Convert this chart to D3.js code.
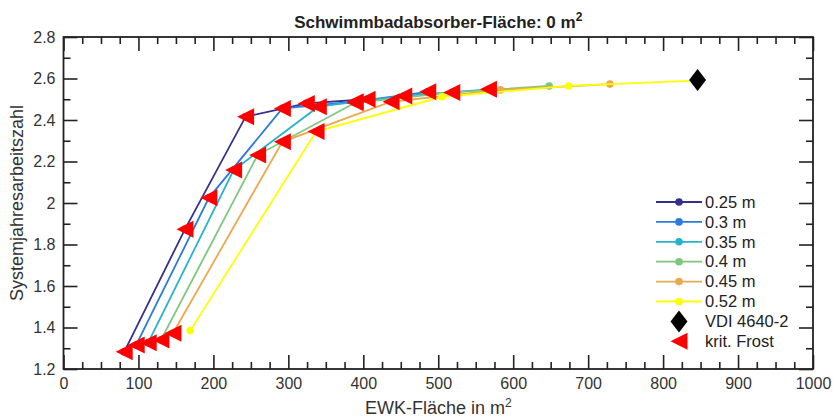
<!DOCTYPE html>
<html>
<head>
<meta charset="utf-8">
<script src="https://cdn.jsdelivr.net/npm/d3@7"></script>
<style>
  body { margin: 0; background: #fff; }
  svg { display: block; font-family: "Liberation Sans", Arial, sans-serif; }
</style>
</head>
<body>
<svg id="chart" width="836" height="420"></svg>
<script>
// Verlegeabstand der Kollektorrohre
const spacings = ['0.25 m', '0.3 m', '0.35 m', '0.4 m', '0.45 m', '0.52 m'];
const colors = ['#33308f', '#2b7bdb', '#27b3cc', '#7dc77d', '#e9a94f', '#ffff00'];

// EWK-Fläche in m2 per series
const ewk = [
    [81, 162, 243, 324, 405],
    [97, 194, 292, 389, 486],
    [113, 227, 340, 454, 567],
    [130, 259, 389, 518, 648],
    [146, 292, 437, 583, 729],
    [169, 337, 505, 674, 842]
];
// Systemjahresarbeitszahl per series
const jaz = [
    [1.283, 1.873, 2.416, 2.480, 2.500],
    [1.316, 2.025, 2.456, 2.488, 2.536],
    [1.327, 2.159, 2.464, 2.516, 2.548],
    [1.340, 2.231, 2.483, 2.533, 2.564],
    [1.372, 2.295, 2.488, 2.545, 2.573],
    [1.385, 2.344, 2.512, 2.564, 2.590]
];
// 1 = kritischer Frost
const frost = [
    [1, 1, 1, 1, 1],
    [1, 1, 1, 1, 1],
    [1, 1, 1, 1, 1],
    [1, 1, 1, 1, 0],
    [1, 1, 1, 0, 0],
    [0, 1, 0, 0, 0]
];
const vdi = { x: 846, y: 2.593 };

const xTicks = [0, 100, 200, 300, 400, 500, 600, 700, 800, 900, 1000];
const yTicks = [1.2, 1.4, 1.6, 1.8, 2, 2.2, 2.4, 2.6, 2.8];

const pLeft = 63.5, pRight = 813, pTop = 37, pBottom = 369;

const svg = d3.select('#chart');

const x = d3.scaleLinear().domain([0, 1000]).range([pLeft, pRight]);
const y = d3.scaleLinear().domain([1.2, 2.8]).range([pBottom, pTop]);

const xMinor = d3.range(0, 1001, 25).filter(v => v % 100 !== 0);
const yMinor = d3.range(1.3, 2.8, 0.2).map(v => +v.toFixed(1));

function styleAxis(g) {
    g.select('.domain').remove();
    g.selectAll('.tick line').attr('stroke', '#222').attr('stroke-width', 1.6);
    g.selectAll('.tick text').attr('fill', '#333').style('font-size', '16px');
}

// major + minor ticks on all four sides (inward)
svg.append('g').attr('transform', `translate(0,${pBottom})`)
    .call(d3.axisBottom(x).tickValues(xTicks).tickSize(-14).tickFormat(d3.format('d')))
    .call(styleAxis)
    .call(g => g.selectAll('.tick text').attr('dy', '0.71em').attr('y', 9));
svg.append('g').attr('transform', `translate(0,${pBottom})`)
    .call(d3.axisBottom(x).tickValues(xMinor).tickSize(-7).tickFormat(''))
    .call(styleAxis);
svg.append('g').attr('transform', `translate(0,${pTop})`)
    .call(d3.axisTop(x).tickValues(xTicks).tickSize(-14).tickFormat(''))
    .call(styleAxis);
svg.append('g').attr('transform', `translate(0,${pTop})`)
    .call(d3.axisTop(x).tickValues(xMinor).tickSize(-7).tickFormat(''))
    .call(styleAxis);

svg.append('g').attr('transform', `translate(${pLeft},0)`)
    .call(d3.axisLeft(y).tickValues(yTicks).tickSize(-14).tickFormat(d => d3.format('')(d)))
    .call(styleAxis)
    .call(g => g.selectAll('.tick text').attr('x', -8));
svg.append('g').attr('transform', `translate(${pLeft},0)`)
    .call(d3.axisLeft(y).tickValues(yMinor).tickSize(-7).tickFormat(''))
    .call(styleAxis);
svg.append('g').attr('transform', `translate(${pRight},0)`)
    .call(d3.axisRight(y).tickValues(yTicks).tickSize(-14).tickFormat(''))
    .call(styleAxis);
svg.append('g').attr('transform', `translate(${pRight},0)`)
    .call(d3.axisRight(y).tickValues(yMinor).tickSize(-7).tickFormat(''))
    .call(styleAxis);

svg.append('rect')
    .attr('x', pLeft).attr('y', pTop)
    .attr('width', pRight - pLeft).attr('height', pBottom - pTop)
    .attr('fill', 'none').attr('stroke', '#222').attr('stroke-width', 1.8);

// series lines
const line = d3.line().x(d => x(d[0])).y(d => y(d[1]));
const series = spacings.map((name, i) => ({
    name: name,
    color: colors[i],
    pts: ewk[i].map((v, j) => [v, jaz[i][j], frost[i][j]])
}));

const plot = svg.append('g');

series.forEach(s => {
    plot.append('path')
        .datum(s.pts)
        .attr('d', line)
        .attr('fill', 'none')
        .attr('stroke', s.color)
        .attr('stroke-width', 1.8);
    plot.selectAll(null)
        .data(s.pts)
        .enter().append('circle')
        .attr('cx', d => x(d[0]))
        .attr('cy', d => y(d[1]))
        .attr('r', 3.8)
        .attr('fill', s.color);
});

function triPath(cx, cy) {
    return `M${cx - 8.5},${cy}L${cx + 8.5},${cy - 8.5}L${cx + 8.5},${cy + 8.5}Z`;
}
function diaPath(cx, cy) {
    return `M${cx},${cy - 11}L${cx + 8.5},${cy}L${cx},${cy + 11}L${cx - 8.5},${cy}Z`;
}

const frostPts = series.flatMap(s => s.pts.filter(p => p[2] === 1));
plot.selectAll('.frost')
    .data(frostPts)
    .enter().append('path')
    .attr('class', 'frost')
    .attr('d', d => triPath(x(d[0]), y(d[1])))
    .attr('fill', '#ff0000');

plot.append('path')
    .attr('d', diaPath(x(vdi.x), y(vdi.y)))
    .attr('fill', '#000');

// legend
const legend = svg.append('g').attr('transform', 'translate(656,202)');
const rowH = 19.9;
const legendFont = '16.5px';
series.forEach((s, i) => {
    const g = legend.append('g').attr('transform', `translate(0,${i * rowH})`);
    g.append('line').attr('x1', 0).attr('x2', 46).attr('y1', 0).attr('y2', 0)
        .attr('stroke', s.color).attr('stroke-width', 1.8);
    g.append('circle').attr('cx', 23).attr('cy', 0).attr('r', 3.8).attr('fill', s.color);
    g.append('text').attr('x', 49).attr('y', 0).attr('dy', '0.35em')
        .style('font-size', legendFont).attr('fill', '#222').text(s.name);
});
const gv = legend.append('g').attr('transform', `translate(0,${6 * rowH})`);
gv.append('path').attr('d', diaPath(23, 0)).attr('fill', '#000');
gv.append('text').attr('x', 49).attr('y', 0).attr('dy', '0.35em')
    .style('font-size', legendFont).attr('fill', '#222').text('VDI 4640-2');
const gf = legend.append('g').attr('transform', `translate(0,${7 * rowH})`);
gf.append('path').attr('d', triPath(23, 0)).attr('fill', '#ff0000');
gf.append('text').attr('x', 49).attr('y', 0).attr('dy', '0.35em')
    .style('font-size', legendFont).attr('fill', '#222').text('krit. Frost');

// title and axis labels
const title = svg.append('text')
    .attr('x', (pLeft + pRight) / 2).attr('y', 28)
    .attr('text-anchor', 'middle')
    .style('font-size', '17px').style('font-weight', 'bold').attr('fill', '#222');
title.append('tspan').text('Schwimmbadabsorber-Fläche: 0 m');
title.append('tspan').attr('dy', -7).style('font-size', '12px').text('2');

const xl = svg.append('text')
    .attr('x', (pLeft + pRight) / 2).attr('y', 414)
    .attr('text-anchor', 'middle')
    .style('font-size', '18px').attr('fill', '#333');
xl.append('tspan').text('EWK-Fläche in m');
xl.append('tspan').attr('dy', -7).style('font-size', '12px').text('2');

svg.append('text')
    .attr('transform', `translate(23,${(pTop + pBottom) / 2}) rotate(-90)`)
    .attr('text-anchor', 'middle')
    .style('font-size', '18px').attr('fill', '#333')
    .text('Systemjahresarbeitszahl');
</script>
</body>
</html>
